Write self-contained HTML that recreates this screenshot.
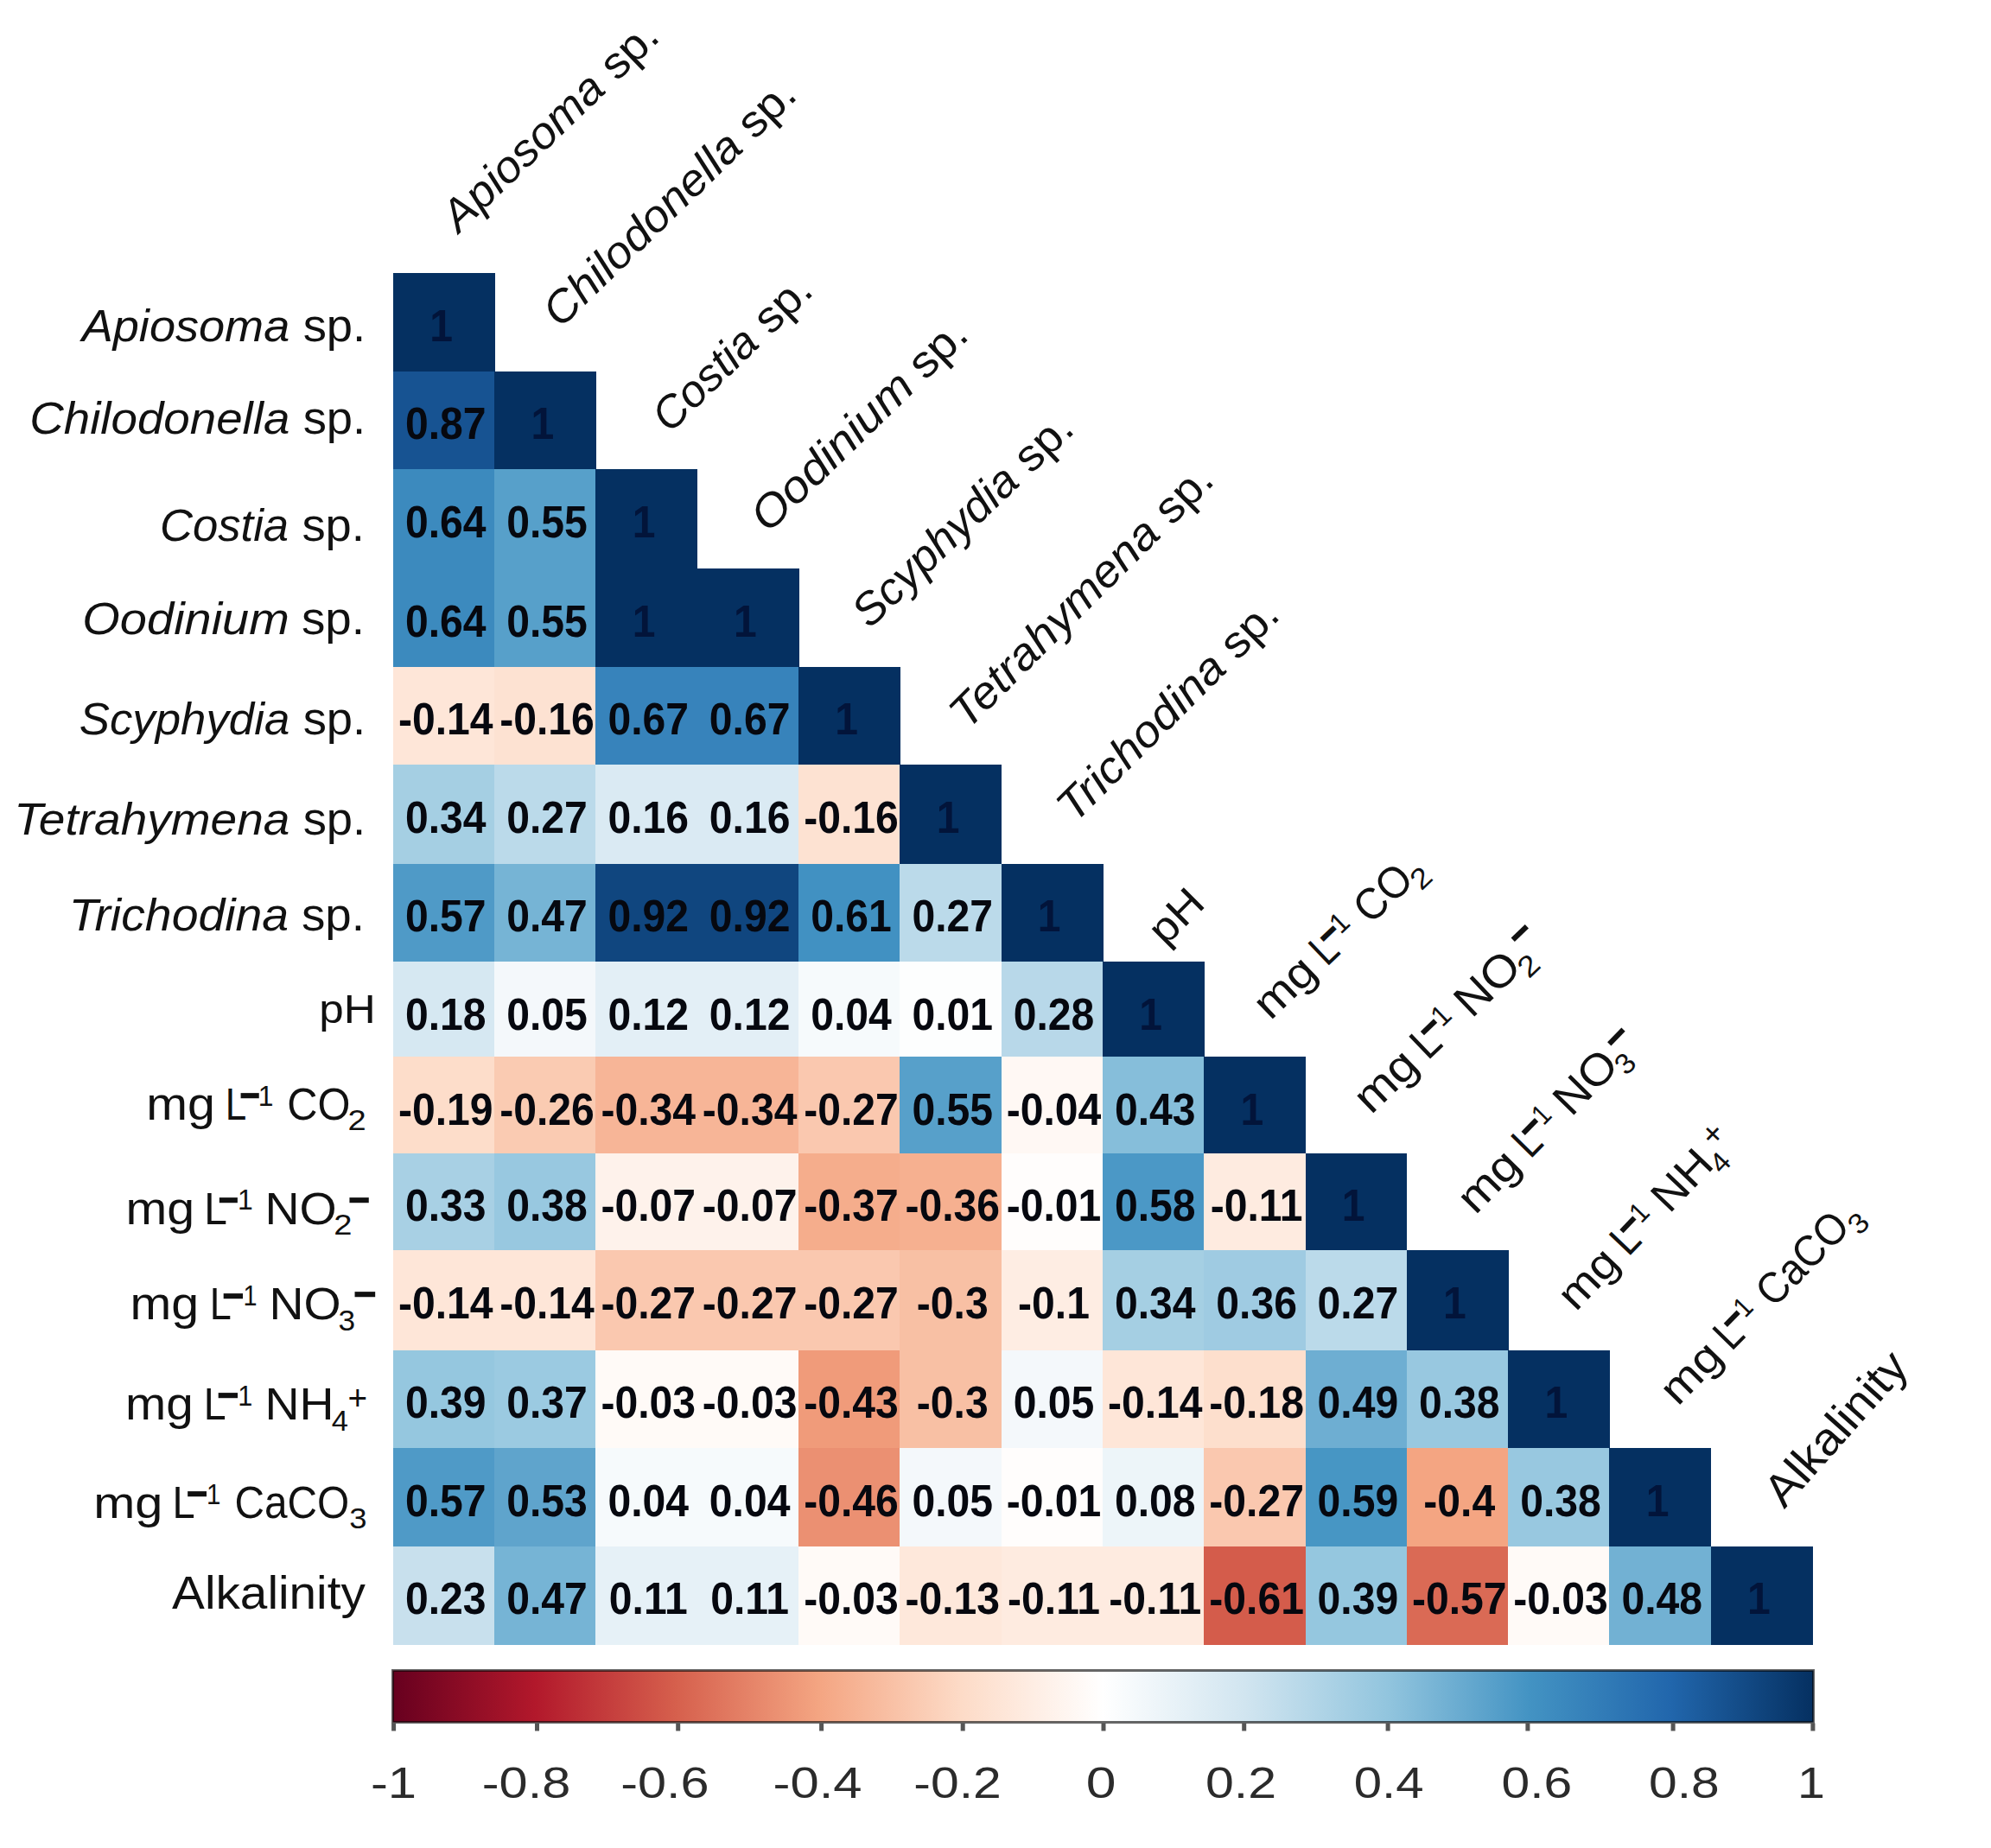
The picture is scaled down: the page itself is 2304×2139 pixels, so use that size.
<!DOCTYPE html>
<html lang="en"><head><meta charset="utf-8"><title>Correlation matrix</title>
<style>html,body{margin:0;padding:0;background:#fff}svg{display:block}text{font-family:"Liberation Sans",sans-serif;fill:#111}.n text{font-weight:bold;font-size:51px;text-anchor:middle;fill:#06080f}.n text.d{fill:#02143a}.l{font-size:50px;fill:#1a1a1a}.i{font-style:italic}.t text{fill:#2b2b2b}</style></head><body>
<svg width="2304" height="2139" viewBox="0 0 2304 2139">
<rect width="2304" height="2139" fill="#fff"/>
<g shape-rendering="crispEdges">
<rect x="454.80" y="316.40" width="117.90" height="113.70" fill="#053061"/>
<rect x="454.80" y="429.50" width="117.90" height="114.30" fill="#175392"/>
<rect x="572.10" y="429.50" width="117.90" height="114.30" fill="#053061"/>
<rect x="454.80" y="543.20" width="117.90" height="115.80" fill="#3c8abe"/>
<rect x="572.10" y="543.20" width="117.90" height="115.80" fill="#57a0ca"/>
<rect x="689.40" y="543.20" width="117.90" height="115.80" fill="#053061"/>
<rect x="454.80" y="658.40" width="117.90" height="113.80" fill="#3c8abe"/>
<rect x="572.10" y="658.40" width="117.90" height="113.80" fill="#57a0ca"/>
<rect x="689.40" y="658.40" width="117.90" height="113.80" fill="#053061"/>
<rect x="806.70" y="658.40" width="117.90" height="113.80" fill="#053061"/>
<rect x="454.80" y="771.60" width="117.90" height="114.20" fill="#fee6d8"/>
<rect x="572.10" y="771.60" width="117.90" height="114.20" fill="#fde2d2"/>
<rect x="689.40" y="771.60" width="117.90" height="114.20" fill="#3783bb"/>
<rect x="806.70" y="771.60" width="117.90" height="114.20" fill="#3783bb"/>
<rect x="924.00" y="771.60" width="117.90" height="114.20" fill="#053061"/>
<rect x="454.80" y="885.20" width="117.90" height="114.90" fill="#a5cfe3"/>
<rect x="572.10" y="885.20" width="117.90" height="114.90" fill="#bbdaea"/>
<rect x="689.40" y="885.20" width="117.90" height="114.90" fill="#daeaf3"/>
<rect x="806.70" y="885.20" width="117.90" height="114.90" fill="#daeaf3"/>
<rect x="924.00" y="885.20" width="117.90" height="114.90" fill="#fde2d2"/>
<rect x="1041.30" y="885.20" width="117.90" height="114.90" fill="#053061"/>
<rect x="454.80" y="999.50" width="117.90" height="114.10" fill="#4f9ac7"/>
<rect x="572.10" y="999.50" width="117.90" height="114.10" fill="#76b4d5"/>
<rect x="689.40" y="999.50" width="117.90" height="114.10" fill="#10467f"/>
<rect x="806.70" y="999.50" width="117.90" height="114.10" fill="#10467f"/>
<rect x="924.00" y="999.50" width="117.90" height="114.10" fill="#4191c2"/>
<rect x="1041.30" y="999.50" width="117.90" height="114.10" fill="#bbdaea"/>
<rect x="1158.60" y="999.50" width="117.90" height="114.10" fill="#053061"/>
<rect x="454.80" y="1113.00" width="117.90" height="110.50" fill="#d6e8f2"/>
<rect x="572.10" y="1113.00" width="117.90" height="110.50" fill="#f4f8fb"/>
<rect x="689.40" y="1113.00" width="117.90" height="110.50" fill="#e3eff6"/>
<rect x="806.70" y="1113.00" width="117.90" height="110.50" fill="#e3eff6"/>
<rect x="924.00" y="1113.00" width="117.90" height="110.50" fill="#f6fafc"/>
<rect x="1041.30" y="1113.00" width="117.90" height="110.50" fill="#fdfefe"/>
<rect x="1158.60" y="1113.00" width="117.90" height="110.50" fill="#b8d8e9"/>
<rect x="1275.90" y="1113.00" width="117.90" height="110.50" fill="#053061"/>
<rect x="454.80" y="1222.90" width="117.90" height="112.20" fill="#fdddca"/>
<rect x="572.10" y="1222.90" width="117.90" height="112.20" fill="#facbb2"/>
<rect x="689.40" y="1222.90" width="117.90" height="112.20" fill="#f7b597"/>
<rect x="806.70" y="1222.90" width="117.90" height="112.20" fill="#f7b597"/>
<rect x="924.00" y="1222.90" width="117.90" height="112.20" fill="#fac8af"/>
<rect x="1041.30" y="1222.90" width="117.90" height="112.20" fill="#57a0ca"/>
<rect x="1158.60" y="1222.90" width="117.90" height="112.20" fill="#fff8f4"/>
<rect x="1275.90" y="1222.90" width="117.90" height="112.20" fill="#86beda"/>
<rect x="1393.20" y="1222.90" width="117.90" height="112.20" fill="#053061"/>
<rect x="454.80" y="1334.50" width="117.90" height="113.30" fill="#a8d0e4"/>
<rect x="572.10" y="1334.50" width="117.90" height="113.30" fill="#98c8e0"/>
<rect x="689.40" y="1334.50" width="117.90" height="113.30" fill="#fef2eb"/>
<rect x="806.70" y="1334.50" width="117.90" height="113.30" fill="#fef2eb"/>
<rect x="924.00" y="1334.50" width="117.90" height="113.30" fill="#f5ad8c"/>
<rect x="1041.30" y="1334.50" width="117.90" height="113.30" fill="#f6b090"/>
<rect x="1158.60" y="1334.50" width="117.90" height="113.30" fill="#fffdfc"/>
<rect x="1275.90" y="1334.50" width="117.90" height="113.30" fill="#4b98c6"/>
<rect x="1393.20" y="1334.50" width="117.90" height="113.30" fill="#feebe0"/>
<rect x="1510.50" y="1334.50" width="117.90" height="113.30" fill="#053061"/>
<rect x="454.80" y="1447.20" width="117.90" height="115.90" fill="#fee6d8"/>
<rect x="572.10" y="1447.20" width="117.90" height="115.90" fill="#fee6d8"/>
<rect x="689.40" y="1447.20" width="117.90" height="115.90" fill="#fac8af"/>
<rect x="806.70" y="1447.20" width="117.90" height="115.90" fill="#fac8af"/>
<rect x="924.00" y="1447.20" width="117.90" height="115.90" fill="#fac8af"/>
<rect x="1041.30" y="1447.20" width="117.90" height="115.90" fill="#f8c0a4"/>
<rect x="1158.60" y="1447.20" width="117.90" height="115.90" fill="#feede3"/>
<rect x="1275.90" y="1447.20" width="117.90" height="115.90" fill="#a5cfe3"/>
<rect x="1393.20" y="1447.20" width="117.90" height="115.90" fill="#9fcbe2"/>
<rect x="1510.50" y="1447.20" width="117.90" height="115.90" fill="#bbdaea"/>
<rect x="1627.80" y="1447.20" width="117.90" height="115.90" fill="#053061"/>
<rect x="454.80" y="1562.50" width="117.90" height="114.20" fill="#95c7df"/>
<rect x="572.10" y="1562.50" width="117.90" height="114.20" fill="#9bcae1"/>
<rect x="689.40" y="1562.50" width="117.90" height="114.20" fill="#fffaf7"/>
<rect x="806.70" y="1562.50" width="117.90" height="114.20" fill="#fffaf7"/>
<rect x="924.00" y="1562.50" width="117.90" height="114.20" fill="#f09b7a"/>
<rect x="1041.30" y="1562.50" width="117.90" height="114.20" fill="#f8c0a4"/>
<rect x="1158.60" y="1562.50" width="117.90" height="114.20" fill="#f4f8fb"/>
<rect x="1275.90" y="1562.50" width="117.90" height="114.20" fill="#fee6d8"/>
<rect x="1393.20" y="1562.50" width="117.90" height="114.20" fill="#fddfcd"/>
<rect x="1510.50" y="1562.50" width="117.90" height="114.20" fill="#6eaed2"/>
<rect x="1627.80" y="1562.50" width="117.90" height="114.20" fill="#98c8e0"/>
<rect x="1745.10" y="1562.50" width="117.90" height="114.20" fill="#053061"/>
<rect x="454.80" y="1676.10" width="117.90" height="114.30" fill="#4f9ac7"/>
<rect x="572.10" y="1676.10" width="117.90" height="114.30" fill="#5fa4cc"/>
<rect x="689.40" y="1676.10" width="117.90" height="114.30" fill="#f6fafc"/>
<rect x="806.70" y="1676.10" width="117.90" height="114.30" fill="#f6fafc"/>
<rect x="924.00" y="1676.10" width="117.90" height="114.30" fill="#eb9072"/>
<rect x="1041.30" y="1676.10" width="117.90" height="114.30" fill="#f4f8fb"/>
<rect x="1158.60" y="1676.10" width="117.90" height="114.30" fill="#fffdfc"/>
<rect x="1275.90" y="1676.10" width="117.90" height="114.30" fill="#edf5f9"/>
<rect x="1393.20" y="1676.10" width="117.90" height="114.30" fill="#fac8af"/>
<rect x="1510.50" y="1676.10" width="117.90" height="114.30" fill="#4796c4"/>
<rect x="1627.80" y="1676.10" width="117.90" height="114.30" fill="#f4a582"/>
<rect x="1745.10" y="1676.10" width="117.90" height="114.30" fill="#98c8e0"/>
<rect x="1862.40" y="1676.10" width="117.90" height="114.30" fill="#053061"/>
<rect x="454.80" y="1789.80" width="117.90" height="114.20" fill="#c8e0ed"/>
<rect x="572.10" y="1789.80" width="117.90" height="114.20" fill="#76b4d5"/>
<rect x="689.40" y="1789.80" width="117.90" height="114.20" fill="#e6f1f7"/>
<rect x="806.70" y="1789.80" width="117.90" height="114.20" fill="#e6f1f7"/>
<rect x="924.00" y="1789.80" width="117.90" height="114.20" fill="#fffaf7"/>
<rect x="1041.30" y="1789.80" width="117.90" height="114.20" fill="#fee8db"/>
<rect x="1158.60" y="1789.80" width="117.90" height="114.20" fill="#feebe0"/>
<rect x="1275.90" y="1789.80" width="117.90" height="114.20" fill="#feebe0"/>
<rect x="1393.20" y="1789.80" width="117.90" height="114.20" fill="#d45c4b"/>
<rect x="1510.50" y="1789.80" width="117.90" height="114.20" fill="#95c7df"/>
<rect x="1627.80" y="1789.80" width="117.90" height="114.20" fill="#da6a55"/>
<rect x="1745.10" y="1789.80" width="117.90" height="114.20" fill="#fffaf7"/>
<rect x="1862.40" y="1789.80" width="117.90" height="114.20" fill="#72b1d3"/>
<rect x="1979.70" y="1789.80" width="117.90" height="114.20" fill="#053061"/>
</g>
<g class="n">
<text transform="translate(510.5 395.0) scale(.943 1)" class="d">1</text>
<text transform="translate(515.8 508.1) scale(.943 1)">0.87</text>
<text transform="translate(627.8 508.1) scale(.943 1)" class="d">1</text>
<text transform="translate(515.8 621.8) scale(.943 1)">0.64</text>
<text transform="translate(633.0 621.8) scale(.943 1)">0.55</text>
<text transform="translate(745.0 621.8) scale(.943 1)" class="d">1</text>
<text transform="translate(515.8 737.0) scale(.943 1)">0.64</text>
<text transform="translate(633.0 737.0) scale(.943 1)">0.55</text>
<text transform="translate(745.0 737.0) scale(.943 1)" class="d">1</text>
<text transform="translate(862.4 737.0) scale(.943 1)" class="d">1</text>
<text transform="translate(515.8 850.2) scale(.943 1)">-0.14</text>
<text transform="translate(633.0 850.2) scale(.943 1)">-0.16</text>
<text transform="translate(750.3 850.2) scale(.943 1)">0.67</text>
<text transform="translate(867.6 850.2) scale(.943 1)">0.67</text>
<text transform="translate(979.7 850.2) scale(.943 1)" class="d">1</text>
<text transform="translate(515.8 963.8) scale(.943 1)">0.34</text>
<text transform="translate(633.0 963.8) scale(.943 1)">0.27</text>
<text transform="translate(750.3 963.8) scale(.943 1)">0.16</text>
<text transform="translate(867.6 963.8) scale(.943 1)">0.16</text>
<text transform="translate(985.0 963.8) scale(.943 1)">-0.16</text>
<text transform="translate(1097.0 963.8) scale(.943 1)" class="d">1</text>
<text transform="translate(515.8 1078.1) scale(.943 1)">0.57</text>
<text transform="translate(633.0 1078.1) scale(.943 1)">0.47</text>
<text transform="translate(750.3 1078.1) scale(.943 1)">0.92</text>
<text transform="translate(867.6 1078.1) scale(.943 1)">0.92</text>
<text transform="translate(985.0 1078.1) scale(.943 1)">0.61</text>
<text transform="translate(1102.2 1078.1) scale(.943 1)">0.27</text>
<text transform="translate(1214.2 1078.1) scale(.943 1)" class="d">1</text>
<text transform="translate(515.8 1191.6) scale(.943 1)">0.18</text>
<text transform="translate(633.0 1191.6) scale(.943 1)">0.05</text>
<text transform="translate(750.3 1191.6) scale(.943 1)">0.12</text>
<text transform="translate(867.6 1191.6) scale(.943 1)">0.12</text>
<text transform="translate(985.0 1191.6) scale(.943 1)">0.04</text>
<text transform="translate(1102.2 1191.6) scale(.943 1)">0.01</text>
<text transform="translate(1219.5 1191.6) scale(.943 1)">0.28</text>
<text transform="translate(1331.5 1191.6) scale(.943 1)" class="d">1</text>
<text transform="translate(515.8 1301.5) scale(.943 1)">-0.19</text>
<text transform="translate(633.0 1301.5) scale(.943 1)">-0.26</text>
<text transform="translate(750.3 1301.5) scale(.943 1)">-0.34</text>
<text transform="translate(867.6 1301.5) scale(.943 1)">-0.34</text>
<text transform="translate(985.0 1301.5) scale(.943 1)">-0.27</text>
<text transform="translate(1102.2 1301.5) scale(.943 1)">0.55</text>
<text transform="translate(1219.5 1301.5) scale(.943 1)">-0.04</text>
<text transform="translate(1336.8 1301.5) scale(.943 1)">0.43</text>
<text transform="translate(1448.8 1301.5) scale(.943 1)" class="d">1</text>
<text transform="translate(515.8 1413.1) scale(.943 1)">0.33</text>
<text transform="translate(633.0 1413.1) scale(.943 1)">0.38</text>
<text transform="translate(750.3 1413.1) scale(.943 1)">-0.07</text>
<text transform="translate(867.6 1413.1) scale(.943 1)">-0.07</text>
<text transform="translate(985.0 1413.1) scale(.943 1)">-0.37</text>
<text transform="translate(1102.2 1413.1) scale(.943 1)">-0.36</text>
<text transform="translate(1219.5 1413.1) scale(.943 1)">-0.01</text>
<text transform="translate(1336.8 1413.1) scale(.943 1)">0.58</text>
<text transform="translate(1454.1 1413.1) scale(.943 1)">-0.11</text>
<text transform="translate(1566.1 1413.1) scale(.943 1)" class="d">1</text>
<text transform="translate(515.8 1525.8) scale(.943 1)">-0.14</text>
<text transform="translate(633.0 1525.8) scale(.943 1)">-0.14</text>
<text transform="translate(750.3 1525.8) scale(.943 1)">-0.27</text>
<text transform="translate(867.6 1525.8) scale(.943 1)">-0.27</text>
<text transform="translate(985.0 1525.8) scale(.943 1)">-0.27</text>
<text transform="translate(1102.2 1525.8) scale(.943 1)">-0.3</text>
<text transform="translate(1219.5 1525.8) scale(.943 1)">-0.1</text>
<text transform="translate(1336.8 1525.8) scale(.943 1)">0.34</text>
<text transform="translate(1454.1 1525.8) scale(.943 1)">0.36</text>
<text transform="translate(1571.4 1525.8) scale(.943 1)">0.27</text>
<text transform="translate(1683.4 1525.8) scale(.943 1)" class="d">1</text>
<text transform="translate(515.8 1641.1) scale(.943 1)">0.39</text>
<text transform="translate(633.0 1641.1) scale(.943 1)">0.37</text>
<text transform="translate(750.3 1641.1) scale(.943 1)">-0.03</text>
<text transform="translate(867.6 1641.1) scale(.943 1)">-0.03</text>
<text transform="translate(985.0 1641.1) scale(.943 1)">-0.43</text>
<text transform="translate(1102.2 1641.1) scale(.943 1)">-0.3</text>
<text transform="translate(1219.5 1641.1) scale(.943 1)">0.05</text>
<text transform="translate(1336.8 1641.1) scale(.943 1)">-0.14</text>
<text transform="translate(1454.1 1641.1) scale(.943 1)">-0.18</text>
<text transform="translate(1571.4 1641.1) scale(.943 1)">0.49</text>
<text transform="translate(1688.7 1641.1) scale(.943 1)">0.38</text>
<text transform="translate(1800.8 1641.1) scale(.943 1)" class="d">1</text>
<text transform="translate(515.8 1754.7) scale(.943 1)">0.57</text>
<text transform="translate(633.0 1754.7) scale(.943 1)">0.53</text>
<text transform="translate(750.3 1754.7) scale(.943 1)">0.04</text>
<text transform="translate(867.6 1754.7) scale(.943 1)">0.04</text>
<text transform="translate(985.0 1754.7) scale(.943 1)">-0.46</text>
<text transform="translate(1102.2 1754.7) scale(.943 1)">0.05</text>
<text transform="translate(1219.5 1754.7) scale(.943 1)">-0.01</text>
<text transform="translate(1336.8 1754.7) scale(.943 1)">0.08</text>
<text transform="translate(1454.1 1754.7) scale(.943 1)">-0.27</text>
<text transform="translate(1571.4 1754.7) scale(.943 1)">0.59</text>
<text transform="translate(1688.7 1754.7) scale(.943 1)">-0.4</text>
<text transform="translate(1806.0 1754.7) scale(.943 1)">0.38</text>
<text transform="translate(1918.0 1754.7) scale(.943 1)" class="d">1</text>
<text transform="translate(515.8 1868.4) scale(.943 1)">0.23</text>
<text transform="translate(633.0 1868.4) scale(.943 1)">0.47</text>
<text transform="translate(750.3 1868.4) scale(.943 1)">0.11</text>
<text transform="translate(867.6 1868.4) scale(.943 1)">0.11</text>
<text transform="translate(985.0 1868.4) scale(.943 1)">-0.03</text>
<text transform="translate(1102.2 1868.4) scale(.943 1)">-0.13</text>
<text transform="translate(1219.5 1868.4) scale(.943 1)">-0.11</text>
<text transform="translate(1336.8 1868.4) scale(.943 1)">-0.11</text>
<text transform="translate(1454.1 1868.4) scale(.943 1)">-0.61</text>
<text transform="translate(1571.4 1868.4) scale(.943 1)">0.39</text>
<text transform="translate(1688.7 1868.4) scale(.943 1)">-0.57</text>
<text transform="translate(1806.0 1868.4) scale(.943 1)">-0.03</text>
<text transform="translate(1923.3 1868.4) scale(.943 1)">0.48</text>
<text transform="translate(2035.3 1868.4) scale(.943 1)" class="d">1</text>
</g>
<g class="l">
<g transform="translate(0 394.6)">
<text transform="translate(94.70 0.00) scale(1.0405 1)" font-size="52" font-style="italic">Apiosoma</text>
<text transform="translate(350.63 0.00) scale(1.0455 1)" font-size="52">sp.</text>
</g>
<g transform="translate(0 501.7)">
<text transform="translate(34.27 0.00) scale(1.0522 1)" font-size="52" font-style="italic">Chilodonella</text>
<text transform="translate(350.63 0.00) scale(1.0455 1)" font-size="52">sp.</text>
</g>
<g transform="translate(0 626.1)">
<text transform="translate(184.99 0.00) scale(1.0116 1)" font-size="52" font-style="italic">Costia</text>
<text transform="translate(349.43 0.00) scale(1.0455 1)" font-size="52">sp.</text>
</g>
<g transform="translate(0 734.4)">
<text transform="translate(95.34 0.00) scale(1.0765 1)" font-size="52" font-style="italic">Oodinium</text>
<text transform="translate(348.92 0.00) scale(1.0535 1)" font-size="52">sp.</text>
</g>
<g transform="translate(0 849.6)">
<text transform="translate(91.78 0.00) scale(1.0151 1)" font-size="52" font-style="italic">Scyphydia</text>
<text transform="translate(350.63 0.00) scale(1.0455 1)" font-size="52">sp.</text>
</g>
<g transform="translate(0 966.1)">
<text transform="translate(16.31 0.00) scale(1.0582 1)" font-size="52" font-style="italic">Tetrahymena</text>
<text transform="translate(350.63 0.00) scale(1.0455 1)" font-size="52">sp.</text>
</g>
<g transform="translate(0 1077.4)">
<text transform="translate(79.67 0.00) scale(1.0654 1)" font-size="52" font-style="italic">Trichodina</text>
<text transform="translate(348.92 0.00) scale(1.0535 1)" font-size="52">sp.</text>
</g>
<g transform="translate(0 1184.4)">
<text transform="translate(369.33 0.00) scale(1.0892 1)" font-size="47">pH</text>
</g>
<g transform="translate(0 1295.9)">
<text transform="translate(169.14 0.00) scale(1.1023 1)" font-size="52">mg</text>
<text transform="translate(260.70 0.00) scale(0.8478 1)" font-size="52">L</text>
<text transform="translate(277.10 -8.84) scale(0.7538 1)" font-size="56" font-weight="bold">−</text>
<text transform="translate(298.74 -16.20) scale(0.9368 1)" font-size="34">1</text>
<text transform="translate(332.34 0.00) scale(0.9386 1)" font-size="52">CO</text>
<text transform="translate(402.54 12.40) scale(1.1226 1)" font-size="34">2</text>
</g>
<g transform="translate(0 1416.6)">
<text transform="translate(145.44 0.00) scale(1.1023 1)" font-size="52">mg</text>
<text transform="translate(236.28 0.00) scale(0.9217 1)" font-size="52">L</text>
<text transform="translate(252.21 -8.84) scale(0.7502 1)" font-size="56" font-weight="bold">−</text>
<text transform="translate(275.04 -16.20) scale(0.9368 1)" font-size="34">1</text>
<text transform="translate(306.57 0.00) scale(1.0667 1)" font-size="52">NO</text>
<text transform="translate(386.34 12.40) scale(1.1226 1)" font-size="34">2</text>
<text transform="translate(402.71 -8.84) scale(0.7964 1)" font-size="56" font-weight="bold">−</text>
</g>
<g transform="translate(0 1527.4)">
<text transform="translate(150.44 0.00) scale(1.1023 1)" font-size="52">mg</text>
<text transform="translate(242.72 0.00) scale(0.8652 1)" font-size="52">L</text>
<text transform="translate(257.11 -8.84) scale(0.7964 1)" font-size="56" font-weight="bold">−</text>
<text transform="translate(281.57 -16.20) scale(0.8479 1)" font-size="34">1</text>
<text transform="translate(311.57 0.00) scale(1.0653 1)" font-size="52">NO</text>
<text transform="translate(391.51 12.40) scale(1.0357 1)" font-size="34">3</text>
<text transform="translate(408.80 -10.14) scale(0.8427 1)" font-size="56" font-weight="bold">−</text>
</g>
<g transform="translate(0 1643.1)">
<text transform="translate(145.08 0.00) scale(1.0901 1)" font-size="52">mg</text>
<text transform="translate(235.69 0.00) scale(0.8957 1)" font-size="52">L</text>
<text transform="translate(250.91 -8.84) scale(0.7964 1)" font-size="56" font-weight="bold">−</text>
<text transform="translate(275.13 -16.20) scale(0.9026 1)" font-size="34">1</text>
<text transform="translate(306.57 0.00) scale(1.0657 1)" font-size="52">NH</text>
<text transform="translate(383.84 12.40) scale(1.0161 1)" font-size="34">4</text>
<text transform="translate(402.57 -11.59) scale(0.9652 1)" font-size="40">+</text>
</g>
<g transform="translate(0 1757)">
<text transform="translate(108.22 0.00) scale(1.1099 1)" font-size="52">mg</text>
<text transform="translate(199.46 0.00) scale(0.9043 1)" font-size="52">L</text>
<text transform="translate(215.45 -8.84) scale(0.7787 1)" font-size="56" font-weight="bold">−</text>
<text transform="translate(239.12 -16.20) scale(0.8684 1)" font-size="34">1</text>
<text transform="translate(271.39 0.00) scale(0.9198 1)" font-size="52">CaCO</text>
<text transform="translate(404.16 12.40) scale(1.0729 1)" font-size="34">3</text>
</g>
<g transform="translate(0 1862.2)">
<text transform="translate(199.07 0.00) scale(1.0504 1)" font-size="54">Alkalinity</text>
</g>
</g>
<g class="l">
<g transform="translate(529.5 272.5) rotate(-43.9)">
<text transform="translate(2.60 0.00) scale(1.0402 1)" font-size="51.5" font-style="italic">Apiosoma</text>
<text transform="translate(255.93 0.00) scale(1.0454 1)" font-size="51.5">sp.</text>
</g>
<g transform="translate(650.6 379) rotate(-44.2)">
<text transform="translate(-3.02 0.00) scale(1.0515 1)" font-size="51.5" font-style="italic">Chilodonella</text>
<text transform="translate(310.18 0.00) scale(1.0454 1)" font-size="51.5">sp.</text>
</g>
<g transform="translate(777 500.5) rotate(-44.2)">
<text transform="translate(-2.91 0.00) scale(1.0112 1)" font-size="51.5" font-style="italic">Costia</text>
<text transform="translate(159.90 0.00) scale(1.0454 1)" font-size="51.5">sp.</text>
</g>
<g transform="translate(891 616) rotate(-44.2)">
<text transform="translate(-2.96 0.00) scale(1.0765 1)" font-size="52.0" font-style="italic">Oodinium</text>
<text transform="translate(250.62 0.00) scale(1.0535 1)" font-size="52.0">sp.</text>
</g>
<g transform="translate(1007.3 727.7) rotate(-43.8)">
<text transform="translate(-1.52 0.00) scale(1.0151 1)" font-size="52.0" font-style="italic">Scyphydia</text>
<text transform="translate(257.33 0.00) scale(1.0455 1)" font-size="52.0">sp.</text>
</g>
<g transform="translate(1123 842.5) rotate(-45)">
<text transform="translate(-4.89 0.00) scale(1.0582 1)" font-size="52.0" font-style="italic">Tetrahymena</text>
<text transform="translate(329.43 0.00) scale(1.0455 1)" font-size="52.0">sp.</text>
</g>
<g transform="translate(1247 950.5) rotate(-45)">
<text transform="translate(-4.93 0.00) scale(1.0650 1)" font-size="51.5" font-style="italic">Trichodina</text>
<text transform="translate(261.66 0.00) scale(1.0534 1)" font-size="51.5">sp.</text>
</g>
<g transform="translate(1351 1093.5) rotate(-45)">
<text transform="translate(-3.37 0.00) scale(1.0868 1)" font-size="48.9">pH</text>
</g>
<g transform="translate(1472.8 1179.3) rotate(-43.7)">
<text transform="translate(-3.78 0.00) scale(1.1026 1)" font-size="51.2">mg</text>
<text transform="translate(86.28 0.00) scale(0.8490 1)" font-size="51.2">L</text>
<text transform="translate(102.48 -8.59) scale(0.7525 1)" font-size="55.2" font-weight="bold">−</text>
<text transform="translate(123.95 -15.96) scale(0.9307 1)" font-size="33.5">1</text>
<text transform="translate(156.86 0.00) scale(0.9406 1)" font-size="51.2">CO</text>
<text transform="translate(226.22 12.21) scale(1.1147 1)" font-size="33.5">2</text>
</g>
<g transform="translate(1589.3 1288.3) rotate(-43.7)">
<text transform="translate(-3.86 0.00) scale(1.1023 1)" font-size="52.0">mg</text>
<text transform="translate(86.98 0.00) scale(0.9217 1)" font-size="52.0">L</text>
<text transform="translate(102.91 -8.84) scale(0.7502 1)" font-size="56.0" font-weight="bold">−</text>
<text transform="translate(125.74 -16.20) scale(0.9368 1)" font-size="34.0">1</text>
<text transform="translate(157.27 0.00) scale(1.0667 1)" font-size="52.0">NO</text>
<text transform="translate(237.04 12.40) scale(1.1226 1)" font-size="34.0">2</text>
<text transform="translate(253.41 -14.84) scale(0.7964 1)" font-size="56.0" font-weight="bold">−</text>
</g>
<g transform="translate(1709.9 1404.3) rotate(-45.6)">
<text transform="translate(-3.78 0.00) scale(1.1026 1)" font-size="51.2">mg</text>
<text transform="translate(86.99 0.00) scale(0.8664 1)" font-size="51.2">L</text>
<text transform="translate(101.20 -8.59) scale(0.7951 1)" font-size="55.2" font-weight="bold">−</text>
<text transform="translate(125.45 -15.96) scale(0.8423 1)" font-size="33.5">1</text>
<text transform="translate(154.78 0.00) scale(1.0680 1)" font-size="51.2">NO</text>
<text transform="translate(233.63 12.21) scale(1.0362 1)" font-size="33.5">3</text>
<text transform="translate(244.71 -9.87) scale(0.8412 1)" font-size="55.2" font-weight="bold">−</text>
</g>
<g transform="translate(1826 1516.4) rotate(-46.3)">
<text transform="translate(-3.66 0.00) scale(1.0928 1)" font-size="50.4">mg</text>
<text transform="translate(84.20 0.00) scale(0.8981 1)" font-size="50.4">L</text>
<text transform="translate(98.93 -8.60) scale(0.7974 1)" font-size="54.3" font-weight="bold">−</text>
<text transform="translate(122.50 -15.71) scale(0.8985 1)" font-size="33.0">1</text>
<text transform="translate(152.96 0.00) scale(1.0678 1)" font-size="50.4">NH</text>
<text transform="translate(227.87 12.03) scale(1.0152 1)" font-size="33.0">4</text>
<text transform="translate(244.24 -15.18) scale(0.9610 1)" font-size="38.8">+</text>
</g>
<g transform="translate(1944.1 1625.7) rotate(-45.6)">
<text transform="translate(-3.78 0.00) scale(1.1129 1)" font-size="50.6">mg</text>
<text transform="translate(85.07 0.00) scale(0.9054 1)" font-size="50.6">L</text>
<text transform="translate(100.61 -8.56) scale(0.7792 1)" font-size="54.5" font-weight="bold">−</text>
<text transform="translate(123.77 -15.78) scale(0.8605 1)" font-size="33.1">1</text>
<text transform="translate(155.17 0.00) scale(0.9198 1)" font-size="50.6">CaCO</text>
<text transform="translate(284.41 12.08) scale(1.0699 1)" font-size="33.1">3</text>
</g>
<g transform="translate(2064.8 1747.1) rotate(-48.3)">
<text transform="translate(-0.11 0.00) scale(1.0510 1)" font-size="52.9">Alkalinity</text>
</g>
</g>
<defs><linearGradient id="g" x1="0" x2="1" y1="0" y2="0"><stop offset="0%" stop-color="#67001F"/><stop offset="10%" stop-color="#B2182B"/><stop offset="20%" stop-color="#D6604D"/><stop offset="30%" stop-color="#F4A582"/><stop offset="40%" stop-color="#FDDBC7"/><stop offset="50%" stop-color="#FFFFFF"/><stop offset="60%" stop-color="#D1E5F0"/><stop offset="70%" stop-color="#92C5DE"/><stop offset="80%" stop-color="#4393C3"/><stop offset="90%" stop-color="#2166AC"/><stop offset="100%" stop-color="#053061"/></linearGradient></defs>
<rect x="454.5" y="1933.5" width="1644.0" height="60.0" fill="url(#g)" stroke="#000" stroke-opacity="0.6" stroke-width="3"/>
<rect x="453.1" y="1994.5" width="5" height="9" fill="#555"/>
<rect x="619.0" y="1994.5" width="5" height="9" fill="#555"/>
<rect x="782.2" y="1994.5" width="5" height="9" fill="#555"/>
<rect x="948.1" y="1994.5" width="5" height="9" fill="#555"/>
<rect x="1111.7" y="1994.5" width="5" height="9" fill="#555"/>
<rect x="1274.5" y="1994.5" width="5" height="9" fill="#555"/>
<rect x="1437.2" y="1994.5" width="5" height="9" fill="#555"/>
<rect x="1603.6" y="1994.5" width="5" height="9" fill="#555"/>
<rect x="1765.4" y="1994.5" width="5" height="9" fill="#555"/>
<rect x="1933.6" y="1994.5" width="5" height="9" fill="#555"/>
<rect x="2095.4" y="1994.5" width="5" height="9" fill="#555"/>
<g class="t" transform="translate(0 2080.8)">
<text transform="translate(428.91 0.00) scale(1.1950 1)" font-size="50">-1</text>
<text transform="translate(557.82 0.00) scale(1.1890 1)" font-size="50">-0.8</text>
<text transform="translate(718.33 0.00) scale(1.1878 1)" font-size="50">-0.6</text>
<text transform="translate(894.51 0.00) scale(1.1952 1)" font-size="50">-0.4</text>
<text transform="translate(1057.35 0.00) scale(1.1773 1)" font-size="50">-0.2</text>
<text transform="translate(1256.70 0.00) scale(1.2482 1)" font-size="50">0</text>
<text transform="translate(1394.94 0.00) scale(1.1815 1)" font-size="50">0.2</text>
<text transform="translate(1566.67 0.00) scale(1.1629 1)" font-size="50">0.4</text>
<text transform="translate(1737.55 0.00) scale(1.1763 1)" font-size="50">0.6</text>
<text transform="translate(1907.95 0.00) scale(1.1763 1)" font-size="50">0.8</text>
<text transform="translate(2080.10 0.00) scale(1.1468 1)" font-size="50">1</text>
</g>
</svg></body></html>
